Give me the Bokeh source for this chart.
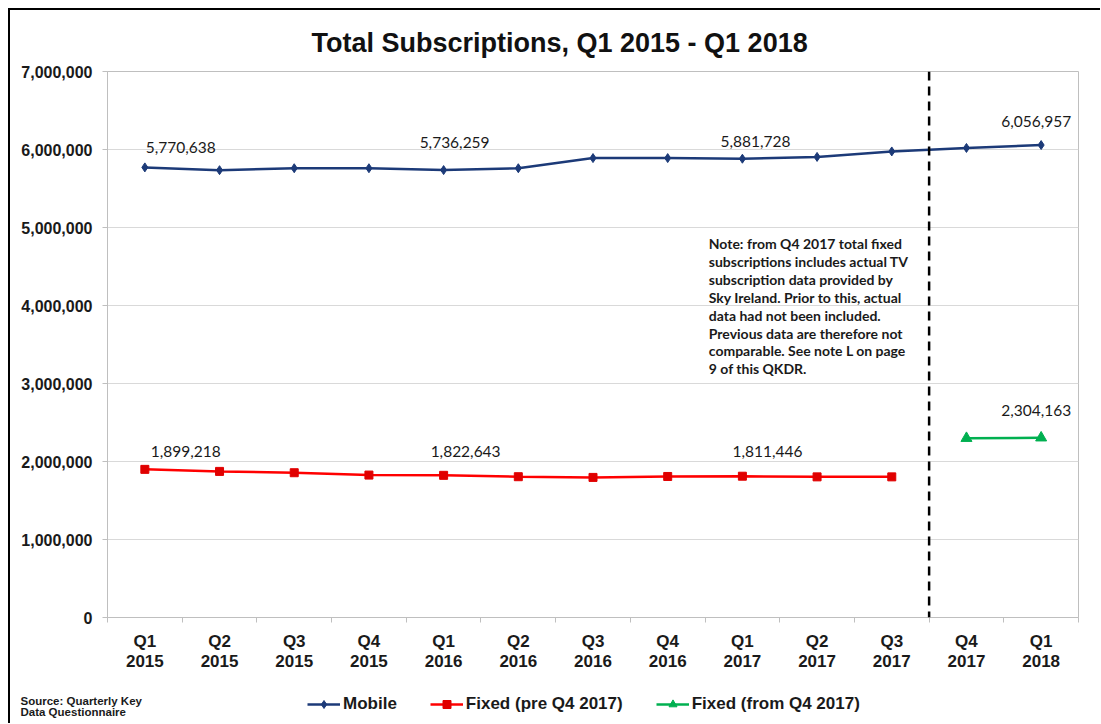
from bokeh.plotting import figure
from bokeh.layouts import column
from bokeh.models import (Range1d, FixedTicker, NumeralTickFormatter, Span, Label,
                          Legend, LegendItem, ColumnDataSource)
from bokeh.core.properties import value
from bokeh.embed import file_html
from bokeh.resources import INLINE

# ---------------- data ----------------
quarters = ["Q1\n2015", "Q2\n2015", "Q3\n2015", "Q4\n2015",
            "Q1\n2016", "Q2\n2016", "Q3\n2016", "Q4\n2016",
            "Q1\n2017", "Q2\n2017", "Q3\n2017", "Q4\n2017", "Q1\n2018"]
mobile = [5770638, 5735000, 5760000, 5760000, 5736259, 5760000, 5890000,
          5890000, 5881728, 5905000, 5975000, 6020000, 6056957]
fixed_pre = [1899218, 1873000, 1856000, 1826000, 1822643, 1805000, 1796000,
             1808000, 1811446, 1803000, 1803000]
fixed_from = [2298000, 2304163]
y_ticks = [0, 1000000, 2000000, 3000000, 4000000, 5000000, 6000000, 7000000]

# which points carry a value label
mobile_label_idx = [0, 4, 8, 12]
fixed_pre_label_idx = [0, 4, 8]
fixed_from_label_idx = [1]

title_text = "Total Subscriptions, Q1 2015 - Q1 2018"
note_text = ("Note: from Q4 2017 total fixed\n"
             "subscriptions includes actual TV\n"
             "subscription data provided by\n"
             "Sky Ireland. Prior to this, actual\n"
             "data had not been included.\n"
             "Previous data are therefore not\n"
             "comparable. See note L on page\n"
             "9 of this QKDR.")
source_text = "Source: Quarterly Key\nData Questionnaire"
legend_labels = ["Mobile", "Fixed (pre Q4 2017)", "Fixed (from Q4 2017)"]

# ---------------- styles ----------------
NAVY = "#1c3a78"
RED = "#ff0000"
RED_MK = "#e00000"
GREEN = "#00b050"
AXIS_GREY = "#bfbfbf"
GRID_GREY = "#d9d9d9"
TXT = "#1a1a1a"
W = 1100
H_MAIN = 680
H_FOOT = 43
NAN = float("nan")

x_all = list(range(len(quarters)))
x_mobile = x_all[:len(mobile)]
x_pre = x_all[:len(fixed_pre)]
x_from = x_all[len(x_all) - len(fixed_from):]

p = figure(width=W, height=H_MAIN,
           x_range=Range1d(-0.5, len(quarters) - 0.5),
           y_range=Range1d(0, 7000000),
           output_backend="svg", toolbar_location=None,
           min_border_left=107, min_border_right=22,
           min_border_top=71, min_border_bottom=63)

p.background_fill_color = "white"
p.border_fill_alpha = 0
p.styles = {"background": "linear-gradient(#000,#000) 8px 8px / 2px calc(100% - 8px) no-repeat, "
                          "linear-gradient(#000,#000) 8px 8px / calc(100% - 8px) 2px no-repeat, #fff"}
p.outline_line_color = AXIS_GREY
p.outline_line_width = 1

# title
p.title.text = title_text
p.title.align = "left"
p.title.offset = 204
p.title.text_font = "Liberation Sans"
p.title.text_font_style = "bold"
p.title.text_font_size = "27px"
p.title.text_color = "#111111"
p.title.standoff = 27

# x axis
xax = p.xaxis[0]
xax.ticker = FixedTicker(ticks=x_all, minor_ticks=[i - 0.5 for i in range(len(quarters) + 1)])
xax.major_label_overrides = {i: q for i, q in enumerate(quarters)}
xax.major_tick_line_color = None
xax.major_tick_out = 0
xax.major_tick_in = 0
xax.minor_tick_line_color = AXIS_GREY
xax.minor_tick_out = 5
xax.minor_tick_in = 0
xax.axis_line_color = AXIS_GREY
xax.major_label_text_font = "Liberation Sans"
xax.major_label_text_font_style = "bold"
xax.major_label_text_font_size = "17px"
xax.major_label_text_color = TXT
xax.major_label_text_line_height = 1.1
xax.major_label_standoff = 9

# y axis
yax = p.yaxis[0]
yax.ticker = FixedTicker(ticks=y_ticks)
yax.formatter = NumeralTickFormatter(format="0,0")
yax.major_tick_line_color = AXIS_GREY
yax.major_tick_out = 5
yax.major_tick_in = 0
yax.minor_tick_line_color = None
yax.axis_line_color = AXIS_GREY
yax.major_label_text_font = "Liberation Sans"
yax.major_label_text_font_style = "bold"
yax.major_label_text_font_size = "16px"
yax.major_label_text_color = TXT
yax.major_label_standoff = 10

p.xgrid.visible = False
p.ygrid.ticker = FixedTicker(ticks=y_ticks)
p.ygrid.grid_line_color = GRID_GREY

# dashed separator between Q3 2017 and Q4 2017
p.add_layout(Span(location=len(fixed_pre) - 0.5, dimension="height",
                  line_color="black", line_width=2.5, line_dash="9 6"))

# series
p.line(x_mobile, mobile, line_color=NAVY, line_width=2.5)
p.scatter(x_mobile, mobile, marker="diamond", size=9, fill_color=NAVY, line_color=NAVY)
p.line(x_pre, fixed_pre, line_color=RED, line_width=2.5)
p.scatter(x_pre, fixed_pre, marker="square", size=8, fill_color=RED_MK, line_color=RED_MK)
p.line(x_from, fixed_from, line_color=GREEN, line_width=2.5)
p.scatter(x_from, fixed_from, marker="triangle", size=11, fill_color=GREEN, line_color=GREEN)

# value labels (offsets in screen px)
def add_labels(xs, ys, idx, dxs, dys):
    src = ColumnDataSource(dict(
        x=[xs[i] for i in idx], y=[ys[i] for i in idx],
        t=[f"{ys[i]:,}" for i in idx], dx=dxs, dy=dys))
    p.text(x="x", y="y", text="t", x_offset="dx", y_offset="dy", source=src,
           text_align="center", text_baseline="middle",
           text_font=value("Lato"), text_font_size="15.5px", text_color=TXT)

add_labels(x_mobile, mobile, mobile_label_idx, [36, 11, 13, -5], [-20, -28, -17, -24])
add_labels(x_pre, fixed_pre, fixed_pre_label_idx, [41, 22, 25], [-18, -24, -25])
add_labels(x_from, fixed_from, fixed_from_label_idx, [-5], [-27])

# note
p.add_layout(Label(x=7.55, y=4.9e6, text=note_text, text_font="Lato",
                   text_font_style="bold", text_font_size="14px",
                   text_color=TXT, text_baseline="top", text_align="left",
                   text_line_height=1.05))

# ---------------- footer: legend + source ----------------
f = figure(width=W, height=H_FOOT, x_range=Range1d(0, W), y_range=Range1d(0, H_FOOT),
           x_axis_type=None, y_axis_type=None, output_backend="svg",
           toolbar_location=None, min_border=0)
for fig in (p, f):
    if "frame_align" in fig.properties():
        fig.frame_align = False
f.grid.visible = False
f.outline_line_color = None
f.background_fill_alpha = 0
f.border_fill_alpha = 0
f.styles = {"background": "linear-gradient(#000,#000) 8px 0px / 2px 100% no-repeat, #fff"}

# legend key renderers (styled like the series, no data of their own)
k_m = [f.line([NAN], [NAN], line_color=NAVY, line_width=2.5),
       f.scatter([NAN], [NAN], marker="diamond", size=9, fill_color=NAVY, line_color=NAVY)]
k_p = [f.line([NAN], [NAN], line_color=RED, line_width=2.5),
       f.scatter([NAN], [NAN], marker="square", size=8, fill_color=RED_MK, line_color=RED_MK)]
k_f = [f.line([NAN], [NAN], line_color=GREEN, line_width=2.5),
       f.scatter([NAN], [NAN], marker="triangle", size=11, fill_color=GREEN, line_color=GREEN)]

legend = Legend(items=[
    LegendItem(label=legend_labels[0], renderers=k_m),
    LegendItem(label=legend_labels[1], renderers=k_p),
    LegendItem(label=legend_labels[2], renderers=k_f),
], orientation="horizontal", location=(307, 9))
legend.label_text_font = "Liberation Sans"
legend.label_text_font_style = "bold"
legend.label_text_font_size = "17px"
legend.label_text_color = TXT
legend.glyph_width = 33
legend.label_standoff = 3
legend.spacing = 33
legend.padding = 0
legend.margin = 0
legend.border_line_color = None
legend.background_fill_alpha = 0
f.add_layout(legend)

f.add_layout(Label(x=20, y=29, text=source_text, text_font="Liberation Sans",
                   text_font_style="bold", text_font_size="11.5px",
                   text_color=TXT, text_baseline="top", text_align="left",
                   text_line_height=0.95))

layout = column(p, f, spacing=0)
open("out.html", "w").write(file_html(layout, INLINE))
